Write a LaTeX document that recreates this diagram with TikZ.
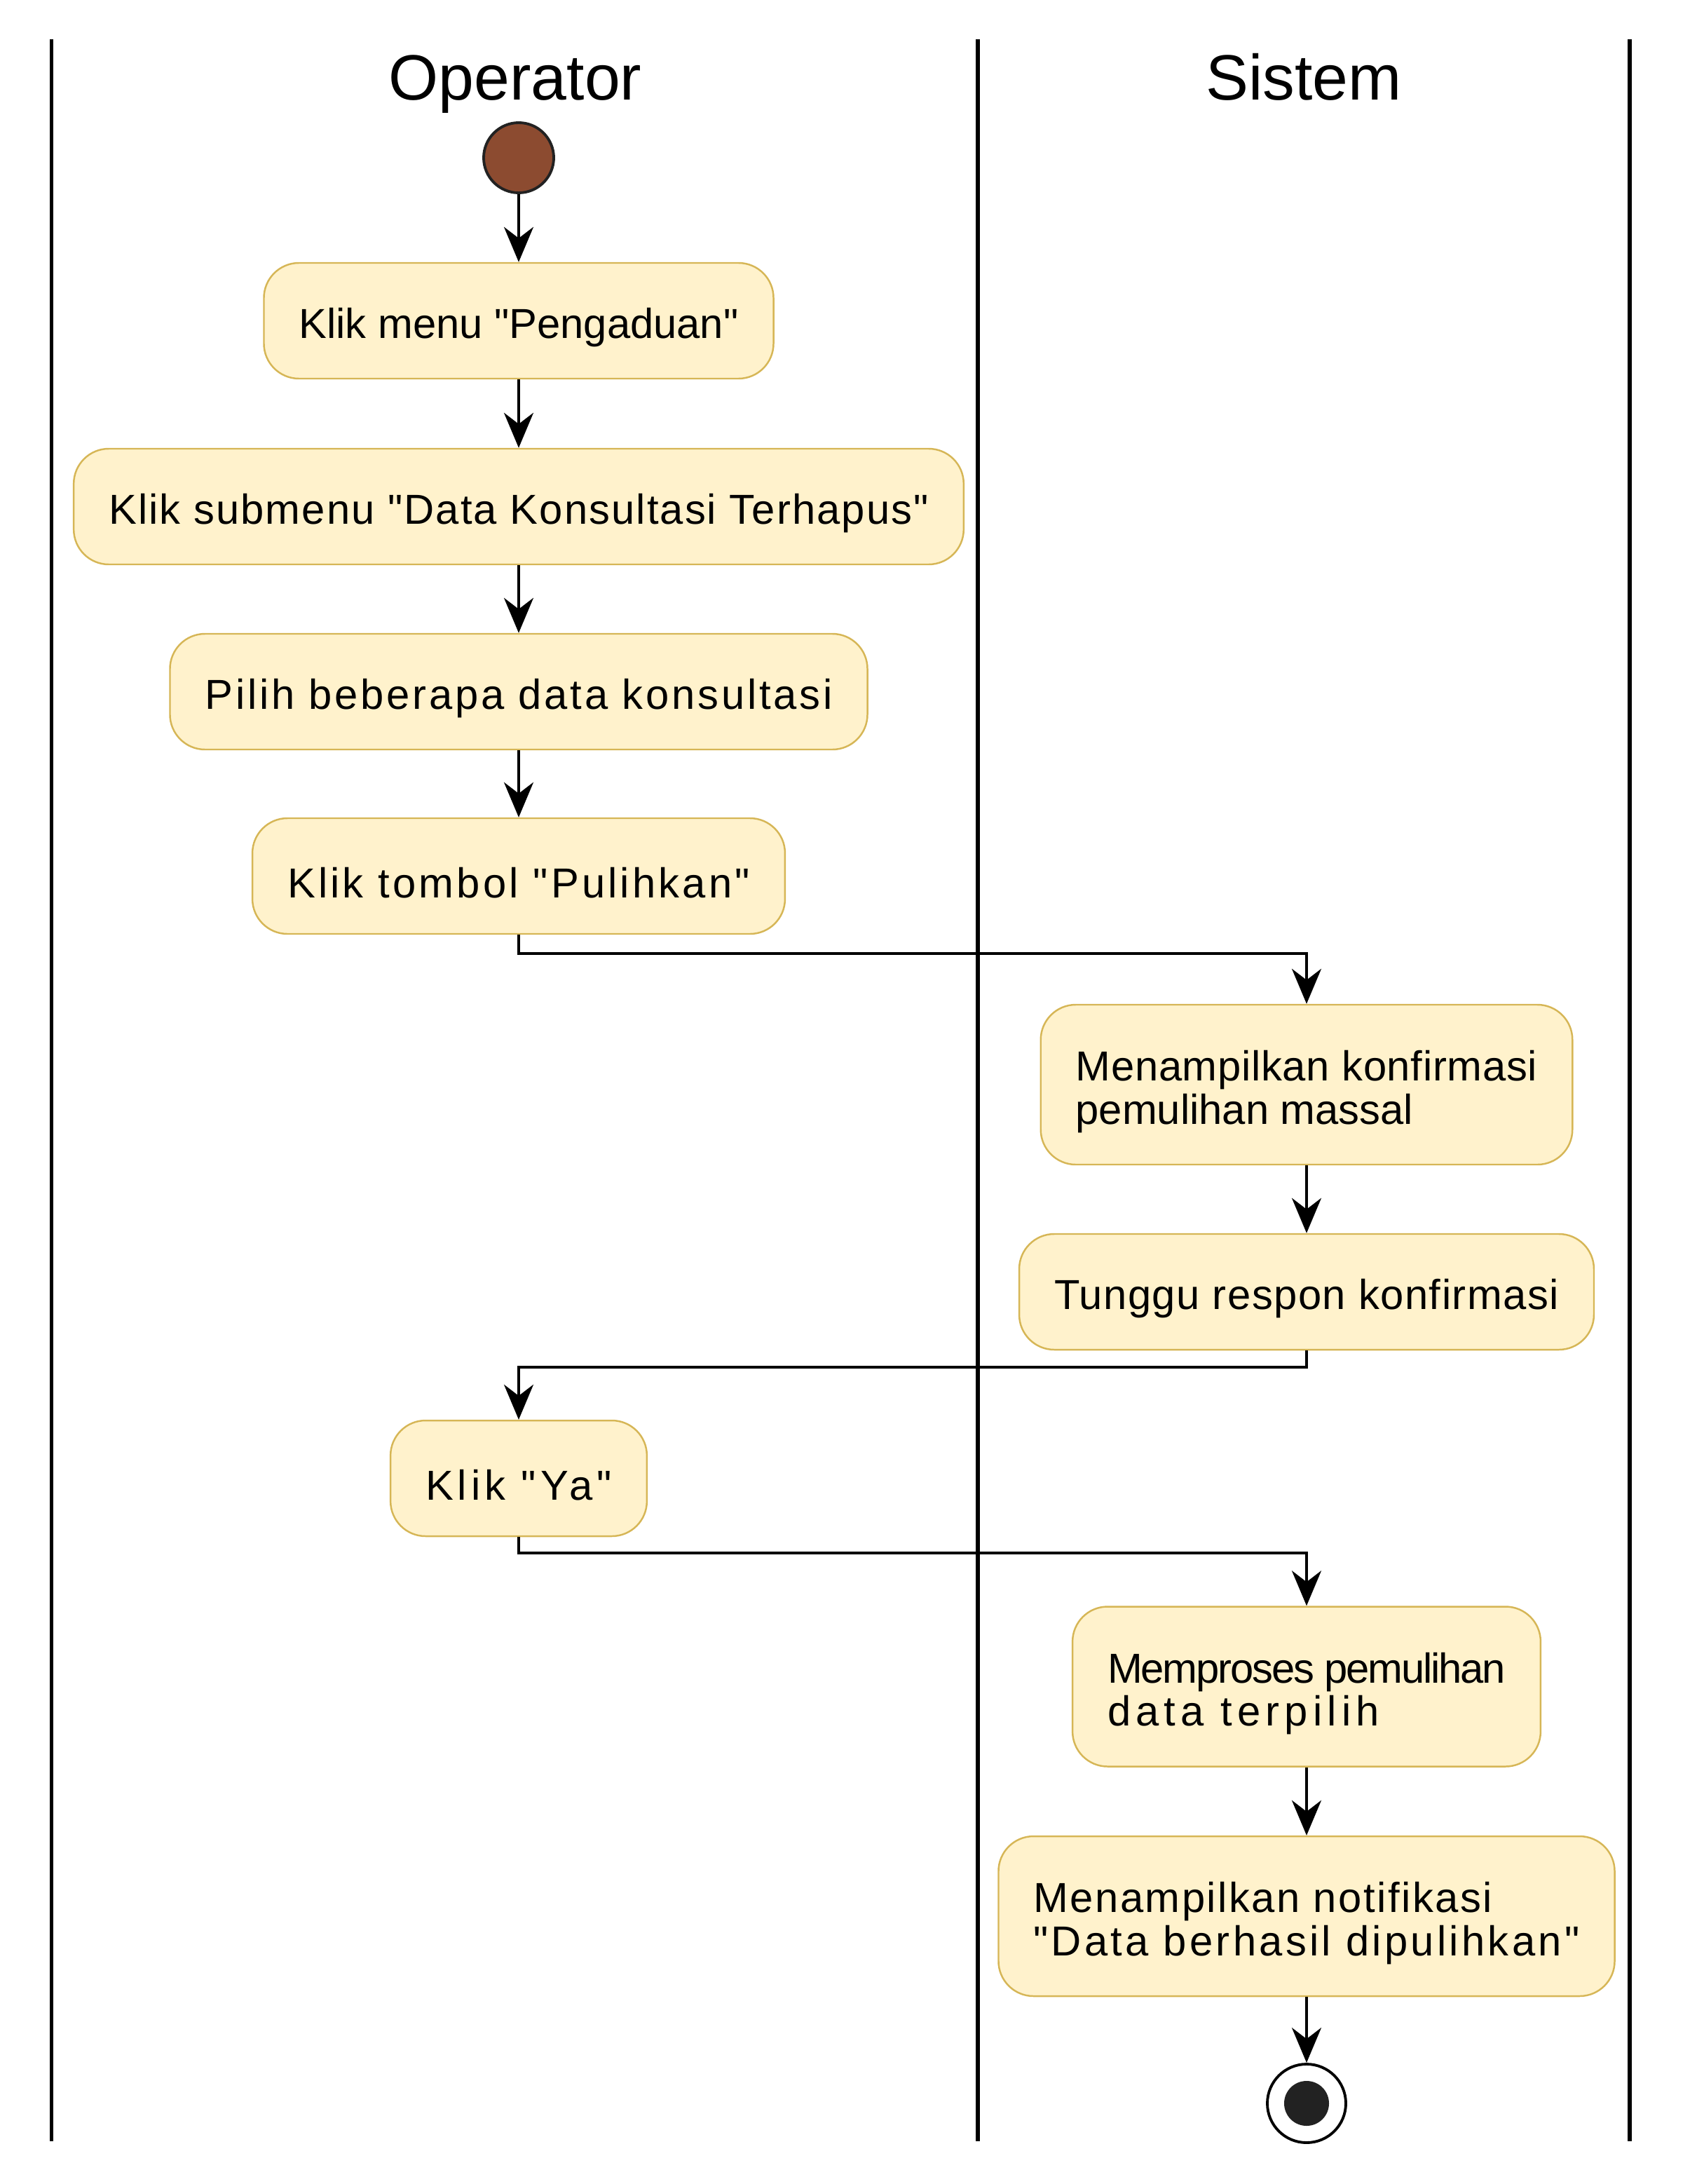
\documentclass[tikz,border=0pt]{standalone}
\usepackage{fontspec}
\setmainfont{Liberation Sans}[Ligatures=TeXOff]
\usetikzlibrary{arrows.meta}
\definecolor{actfill}{HTML}{FFF2CC}
\definecolor{actline}{HTML}{D6B656}
\definecolor{startfill}{HTML}{8C4B30}
\definecolor{endfill}{HTML}{222222}
\newcommand{\trk}[2]{{\addfontfeature{LetterSpace=#1}#2}}

\begin{document}
\begin{tikzpicture}[x=1cm, y=1cm,
  act/.style={draw=actline, line width=0.7pt, fill=actfill, rounded corners=0.5cm,
    inner xsep=0.5cm, inner ysep=0.3cm, minimum height=1.65cm, align=left,
    font=\fontsize{17}{17.6}\selectfont, execute at begin node={\rule{0pt}{18pt}}},
  act2/.style={act, minimum height=2.28cm, execute at begin node={\rule{0pt}{35.6pt}}},
  flow/.style={line width=1.1pt, -{Stealth[length=5mm, width=4.2mm, inset=1.6mm]}},
  lane/.style={line width=1.7pt},
  head/.style={font=\fontsize{26}{30}\selectfont, anchor=base}]
  \useasboundingbox (0,0) rectangle (24.30,-31.15);
  % swimlanes
  \draw[lane] (0.735,-0.56) -- (0.735,-30.54);
  \draw[lane] (13.95,-0.56) -- (13.95,-30.54);
  \draw[lane] (23.25,-0.56) -- (23.25,-30.54);
  \node[head] (hop) at (7.35,-1.43) {Operator};
  \node[head] (hsys) at (18.60,-1.43) {Sistem};
  % operator lane
  \node[circle, draw=endfill, line width=1.1pt, fill=startfill, minimum size=1.0cm, inner sep=0pt] (start) at (7.40,-2.25) {};
  \node[act] (menu) at (7.40,-4.575) {Klik menu "Pengaduan"};
  \node[act] (submenu) at (7.40,-7.225) {\trk{3.5}{Klik submenu "Data Konsultasi Terhapus"}};
  \node[act] (pilih) at (7.40,-9.865) {\trk{6.3}{Pilih beberapa data konsultasi}};
  \node[act] (pulihkan) at (7.40,-12.495) {\trk{7}{Klik tombol "Pulihkan"}};
  \node[act] (ya) at (7.40,-21.085) {\trk{10}{Klik "Ya"}};
  % sistem lane
  \node[act2] (konfirmasi) at (18.64,-15.47) {\trk{1.2}{Menampilkan konfirmasi}\\pemulihan massal};
  \node[act] (tunggu) at (18.64,-18.425) {\trk{2.5}{Tunggu respon konfirmasi}};
  \node[act2] (proses) at (18.64,-24.055) {\trk{-3.6}{Memproses pemulihan}\\\trk{12}{data terpilih}};
  \node[act2] (notif) at (18.64,-27.33) {\trk{4.2}{Menampilkan notifikasi}\\\trk{7.2}{"Data berhasil dipulihkan"}};
  \node[circle, draw=black, line width=1.1pt, fill=white, minimum size=1.12cm, inner sep=0pt] (stop) at (18.64,-30.00) {};
  \fill[endfill] (stop) circle (0.32);
  % flows
  \draw[flow] (start) -- (menu);
  \draw[flow] (menu) -- (submenu);
  \draw[flow] (submenu) -- (pilih);
  \draw[flow] (pilih) -- (pulihkan);
  \draw[flow] (pulihkan.south) -- ++(0,-0.27) -| (konfirmasi.north);
  \draw[flow] (konfirmasi) -- (tunggu);
  \draw[flow] (tunggu.south) -- ++(0,-0.24) -| (ya.north);
  \draw[flow] (ya.south) -- ++(0,-0.23) -| (proses.north);
  \draw[flow] (proses) -- (notif);
  \draw[flow] (notif) -- (stop);
\end{tikzpicture}
\end{document}
